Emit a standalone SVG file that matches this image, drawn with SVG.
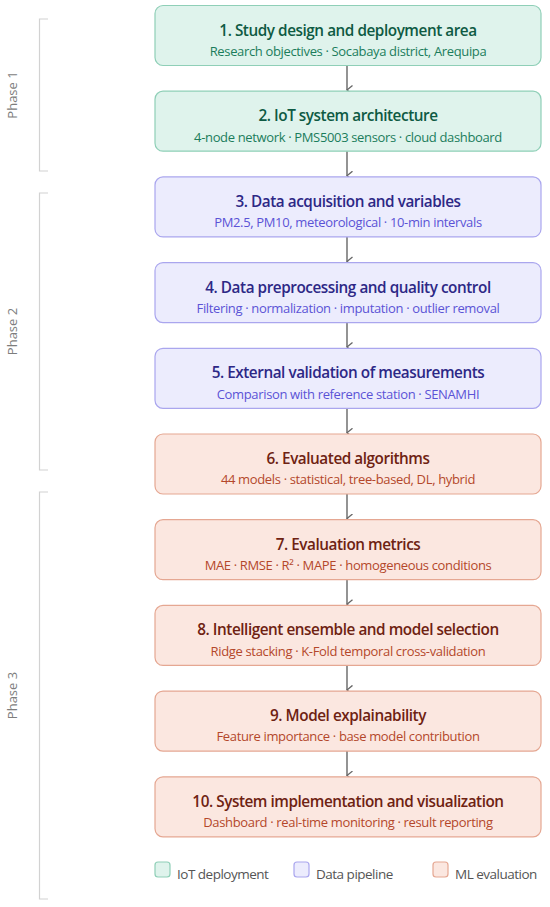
<svg xmlns="http://www.w3.org/2000/svg" width="550" height="907" viewBox="0 0 550 907">
<defs>
<marker id="ah" viewBox="0 0 10 10" refX="5" refY="9" markerWidth="10" markerHeight="10" markerUnits="userSpaceOnUse" orient="auto-start-reverse">
<path d="M0.5,3.5 L5,9 L9.5,3.5" fill="none" stroke="#666666" stroke-width="1.3"/>
</marker>
<style>
.bx{stroke-width:1.2}
.g .bx{fill:#dff3ec;stroke:#8fcfb7}
.p .bx{fill:#ececfd;stroke:#aaa6ee}
.o .bx{fill:#fbe7e0;stroke:#e5a792}
.t{font-family:"Open Sans","Noto Sans",sans-serif;font-weight:600;font-size:15.3px;letter-spacing:-0.45px;text-anchor:middle}
.s{font-family:"Open Sans","Noto Sans",sans-serif;font-size:13px;letter-spacing:-0.35px;text-anchor:middle}
.g .t{fill:#0e5a43}.g .s{fill:#1b7d5c}
.p .t{fill:#2d2886}.p .s{fill:#5b53d6}
.o .t{fill:#6e2212}.o .s{fill:#b4472b}
.ph{font-family:"Open Sans","Noto Sans",sans-serif;font-size:13px;fill:#7d7d7d;text-anchor:middle}
.br{fill:none;stroke:#d2d2d2;stroke-width:1.2}
.lg{font-family:"Open Sans","Noto Sans",sans-serif;font-size:13.5px;letter-spacing:-0.5px;fill:#555}
.cn line{stroke:#666666;stroke-width:1.4;marker-end:url(#ah)}
</style>
</defs>
<rect width="550" height="907" fill="#ffffff"/>
<g id="phases">
<path class="br" d="M48,19 H39.5 V171 H48"/>
<text class="ph" transform="translate(16.5,95) rotate(-90)">Phase 1</text>
<path class="br" d="M48,193 H39.5 V470 H48"/>
<text class="ph" transform="translate(16.5,331.5) rotate(-90)">Phase 2</text>
<path class="br" d="M48,492 H39.5 V899 H48"/>
<text class="ph" transform="translate(16.5,695.5) rotate(-90)">Phase 3</text>
</g>
<g id="connectors" class="cn">
<line x1="347" y1="65.5" x2="347" y2="90"/>
<line x1="347" y1="151.2" x2="347" y2="175.7"/>
<line x1="347" y1="236.9" x2="347" y2="261.4"/>
<line x1="347" y1="322.6" x2="347" y2="347.1"/>
<line x1="347" y1="408.3" x2="347" y2="432.8"/>
<line x1="347" y1="494" x2="347" y2="518.5"/>
<line x1="347" y1="579.7" x2="347" y2="604.2"/>
<line x1="347" y1="665.4" x2="347" y2="689.9"/>
<line x1="347" y1="751.1" x2="347" y2="775.6"/>
</g>
<g id="n1" class="g"><rect class="bx" x="155" y="5.5" width="386" height="60" rx="8"/><text class="t" x="348" y="35.5">1. Study design and deployment area</text><text class="s" x="348" y="55.8">Research objectives · Socabaya district, Arequipa</text></g>
<g id="n2" class="g"><rect class="bx" x="155" y="91.2" width="386" height="60" rx="8"/><text class="t" x="348" y="121.2">2. IoT system architecture</text><text class="s" x="348" y="141.5">4-node network · PMS5003 sensors · cloud dashboard</text></g>
<g id="n3" class="p"><rect class="bx" x="155" y="176.9" width="386" height="60" rx="8"/><text class="t" x="348" y="206.9">3. Data acquisition and variables</text><text class="s" x="348" y="227.2">PM2.5, PM10, meteorological · 10-min intervals</text></g>
<g id="n4" class="p"><rect class="bx" x="155" y="262.6" width="386" height="60" rx="8"/><text class="t" x="348" y="292.6">4. Data preprocessing and quality control</text><text class="s" x="348" y="312.9">Filtering · normalization · imputation · outlier removal</text></g>
<g id="n5" class="p"><rect class="bx" x="155" y="348.3" width="386" height="60" rx="8"/><text class="t" x="348" y="378.3">5. External validation of measurements</text><text class="s" x="348" y="398.6">Comparison with reference station · SENAMHI</text></g>
<g id="n6" class="o"><rect class="bx" x="155" y="434" width="386" height="60" rx="8"/><text class="t" x="348" y="464">6. Evaluated algorithms</text><text class="s" x="348" y="484.3">44 models · statistical, tree-based, DL, hybrid</text></g>
<g id="n7" class="o"><rect class="bx" x="155" y="519.7" width="386" height="60" rx="8"/><text class="t" x="348" y="549.7">7. Evaluation metrics</text><text class="s" x="348" y="570">MAE · RMSE · R² · MAPE · homogeneous conditions</text></g>
<g id="n8" class="o"><rect class="bx" x="155" y="605.4" width="386" height="60" rx="8"/><text class="t" x="348" y="635.4">8. Intelligent ensemble and model selection</text><text class="s" x="348" y="655.7">Ridge stacking · K-Fold temporal cross-validation</text></g>
<g id="n9" class="o"><rect class="bx" x="155" y="691.1" width="386" height="60" rx="8"/><text class="t" x="348" y="721.1">9. Model explainability</text><text class="s" x="348" y="741.4">Feature importance · base model contribution</text></g>
<g id="n10" class="o"><rect class="bx" x="155" y="776.8" width="386" height="60" rx="8"/><text class="t" x="348" y="806.8">10. System implementation and visualization</text><text class="s" x="348" y="827.1">Dashboard · real-time monitoring · result reporting</text></g>
<g id="legend">
<g class="g"><rect class="bx" x="155" y="862" width="15" height="15" rx="3"/></g>
<text class="lg" x="177" y="879">IoT deployment</text>
<g class="p"><rect class="bx" x="294" y="862" width="15" height="15" rx="3"/></g>
<text class="lg" x="316" y="879">Data pipeline</text>
<g class="o"><rect class="bx" x="433" y="862" width="15" height="15" rx="3"/></g>
<text class="lg" x="455" y="879">ML evaluation</text>
</g>
</svg>
